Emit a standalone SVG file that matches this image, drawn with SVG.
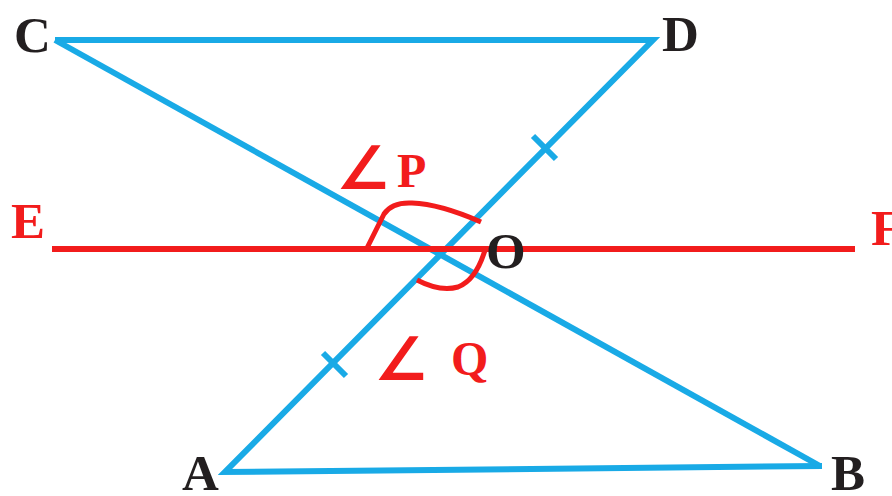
<svg xmlns="http://www.w3.org/2000/svg" width="892" height="496" viewBox="0 0 892 496">
<style>
.blue{stroke:#19aae6;stroke-width:6;fill:none;stroke-linecap:butt;stroke-linejoin:miter}
.red{stroke:#f21c1c;stroke-width:6;fill:none}
.arc{stroke:#f21c1c;stroke-width:5;fill:none;stroke-linejoin:round}
.lbl{font-family:"Liberation Serif","DejaVu Serif",serif;font-weight:bold;font-size:51px}
.sm{font-size:48px}
.blk{fill:#231f20}
.rd{fill:#f21c1c}
.ang{font-family:"DejaVu Sans",sans-serif;font-weight:bold;font-size:60px;fill:#f21c1c}
</style>
<rect width="892" height="496" fill="#ffffff"/>
<g id="connectors">
<path class="blue" d="M55 40 L653 40 L225 472 L822 466"/>
<line class="blue" x1="55" y1="40" x2="820" y2="466"/>
<line class="red" x1="52" y1="249" x2="855" y2="249"/>
<line class="blue" x1="533" y1="136" x2="556" y2="159"/>
<line class="blue" x1="323" y1="353" x2="346" y2="376"/>
<path class="arc" d="M367 248 L384 214 Q392 202 412 203 Q440 204 481 222"/>
<path class="arc" d="M417 280 Q440 292 458 287 Q476 280 485 250"/>
</g>
<g id="C"><text class="lbl blk" x="14" y="52">C</text></g>
<g id="D"><text class="lbl blk" x="662" y="51">D</text></g>
<g id="A"><text class="lbl blk" x="182" y="490">A</text></g>
<g id="B"><text class="lbl blk" x="831" y="490">B</text></g>
<g id="E"><text class="lbl rd" x="11" y="238">E</text></g>
<g id="F"><text class="lbl rd" x="871" y="245">F</text></g>
<g id="O"><text class="lbl blk" x="486" y="268">O</text></g>
<g id="angleP"><text class="ang" x="336" y="189">∠</text><text class="lbl rd sm" x="397" y="187">P</text></g>
<g id="angleQ"><text class="ang" x="374" y="380">∠</text><text class="lbl rd sm" x="451" y="375">Q</text></g>
</svg>
